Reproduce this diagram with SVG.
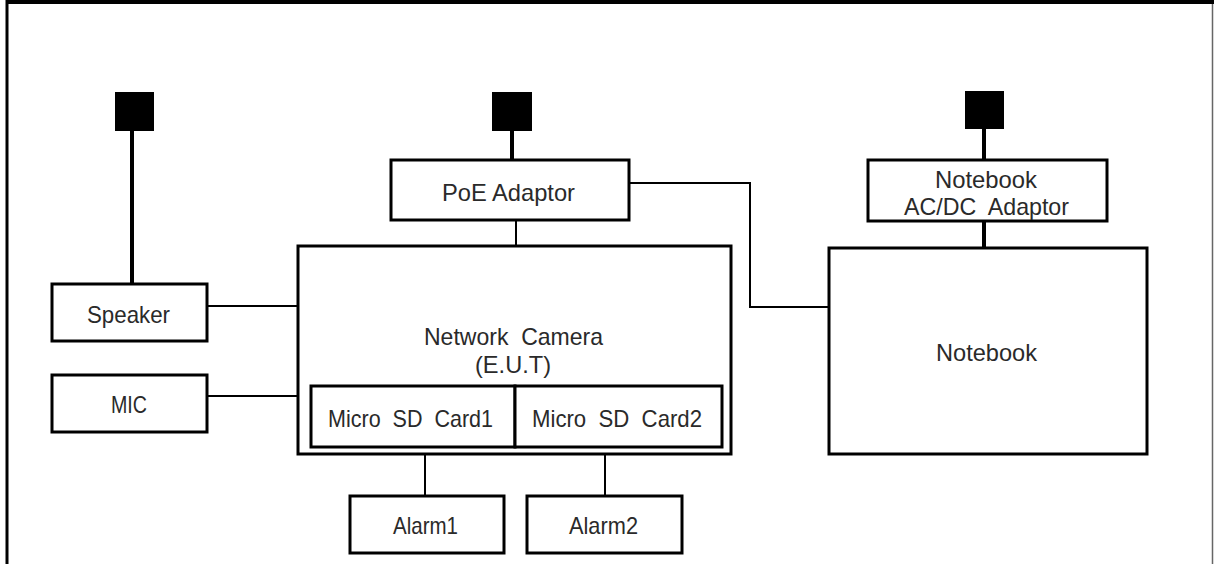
<svg xmlns="http://www.w3.org/2000/svg" width="1214" height="564" viewBox="0 0 1214 564">
<style>
.box{fill:#fff;stroke:#000;stroke-width:3}
.plug{fill:#000}
.pw{stroke:#000;stroke-width:4;fill:none}
.wire{stroke:#000;stroke-width:2;fill:none}
text{font-family:"Liberation Sans",Arial,sans-serif;font-size:24px;fill:#2a2a2a;text-anchor:middle;white-space:pre}
</style>
<rect x="0" y="0" width="1214" height="564" fill="#fff"/>
<g id="frame">
<line x1="7" y1="2" x2="1214" y2="2" stroke="#000" stroke-width="4"/>
<line x1="7" y1="0" x2="7" y2="564" stroke="#000" stroke-width="3"/>
<line x1="1212.5" y1="4" x2="1212.5" y2="564" stroke="#666" stroke-width="1.5"/>
</g>
<g id="connectors">
<line class="pw" x1="132" y1="131" x2="132" y2="284"/>
<line class="pw" x1="512" y1="131" x2="512" y2="160"/>
<line class="pw" x1="984" y1="129" x2="984" y2="160"/>
<line class="pw" x1="984" y1="221" x2="984" y2="248"/>
<line class="wire" x1="516" y1="220" x2="516" y2="246"/>
<line class="wire" x1="207" y1="306" x2="298" y2="306"/>
<line class="wire" x1="207" y1="396" x2="298" y2="396"/>
<line class="wire" x1="425" y1="454" x2="425" y2="496"/>
<line class="wire" x1="605" y1="454" x2="605" y2="496"/>
<polyline class="wire" points="629,183 750,183 750,307 829,307"/>
</g>
<g id="plug-speaker"><rect class="plug" x="115" y="92" width="39" height="39"/></g>
<g id="plug-poe"><rect class="plug" x="492" y="92" width="40" height="39"/></g>
<g id="plug-notebook"><rect class="plug" x="965" y="91" width="39" height="38"/></g>
<g id="poe-adaptor">
<rect class="box" x="391" y="160" width="238" height="60"/>
<text x="508.5" y="201" textLength="133" lengthAdjust="spacingAndGlyphs">PoE Adaptor</text>
</g>
<g id="notebook-adaptor">
<rect class="box" x="868" y="160" width="239" height="61"/>
<text x="986" y="188" textLength="102" lengthAdjust="spacingAndGlyphs">Notebook</text>
<text x="986.5" y="215" textLength="165" lengthAdjust="spacingAndGlyphs">AC/DC  Adaptor</text>
</g>
<g id="speaker">
<rect class="box" x="52" y="284" width="155" height="57"/>
<text x="128.5" y="323" textLength="83" lengthAdjust="spacingAndGlyphs">Speaker</text>
</g>
<g id="mic">
<rect class="box" x="52" y="375" width="155" height="57"/>
<text x="129" y="413" textLength="36" lengthAdjust="spacingAndGlyphs">MIC</text>
</g>
<g id="network-camera">
<rect class="box" x="298" y="246" width="433" height="208"/>
<text x="513.5" y="345" textLength="179" lengthAdjust="spacingAndGlyphs">Network  Camera</text>
<text x="513" y="373" textLength="76" lengthAdjust="spacingAndGlyphs">(E.U.T)</text>
</g>
<g id="sd-card1">
<rect class="box" x="311" y="386" width="204" height="61"/>
<text x="410.5" y="427" textLength="165" lengthAdjust="spacingAndGlyphs">Micro  SD  Card1</text>
</g>
<g id="sd-card2">
<rect class="box" x="515" y="386" width="207" height="61"/>
<text x="617" y="427" textLength="170" lengthAdjust="spacingAndGlyphs">Micro  SD  Card2</text>
</g>
<g id="notebook">
<rect class="box" x="829" y="248" width="318" height="206"/>
<text x="986.5" y="361" textLength="101" lengthAdjust="spacingAndGlyphs">Notebook</text>
</g>
<g id="alarm1">
<rect class="box" x="350" y="496" width="154" height="57"/>
<text x="425.5" y="534" textLength="65" lengthAdjust="spacingAndGlyphs">Alarm1</text>
</g>
<g id="alarm2">
<rect class="box" x="527" y="496" width="155" height="57"/>
<text x="603.5" y="534" textLength="69" lengthAdjust="spacingAndGlyphs">Alarm2</text>
</g>
</svg>
